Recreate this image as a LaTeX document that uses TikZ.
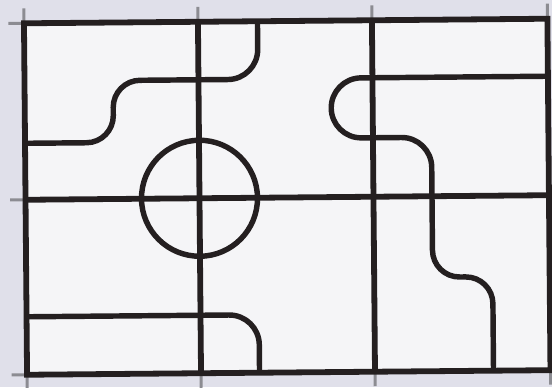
\documentclass[tikz,border=0pt]{standalone}
\usepackage{xcolor}
\usepackage{tikz}
\definecolor{ink}{RGB}{36,31,32}
\definecolor{paper}{RGB}{245,245,247}
\definecolor{scan}{RGB}{224,224,234}
\definecolor{pencil}{RGB}{140,140,146}
\tikzstyle{frame} = [draw=ink, line width=3.3pt]
\tikzstyle{track} = [draw=ink, line width=3.1pt, line join=round]
\tikzstyle{tick} = [draw=pencil, line width=1.7pt]

\begin{document}
\begin{tikzpicture}[x=0.02cm, y=-0.02cm]
    \useasboundingbox[fill=scan] (0,0) rectangle (552,387);
    \begin{scope}[rotate around={0.5:(287,197)}]
    % 网格角点
    \coordinate (nw) at (25.5,21);
    \coordinate (ne) at (549,21);
    \coordinate (sw) at (25.5,372.5);
    \coordinate (se) at (549,372.5);
    \coordinate (w) at (25.5,197.5);
    \coordinate (e) at (549,197.5);
    \coordinate (n1) at (199.5,21);
    \coordinate (n2) at (373.5,21);
    \coordinate (s1) at (199.5,372.5);
    \coordinate (s2) at (373.5,372.5);
    \coordinate (hub) at (199.5,197.5);

    % 铅笔刻度
    \foreach \x in {25.5,199.5,373.5,549} {
        \draw [tick] (\x,6) -- (\x,21);
        \draw [tick] (\x,372.5) -- (\x,387);
    }
    \foreach \y in {21,197.5,372.5}
        \draw [tick] (10,\y) -- (25.5,\y);

    % 外框与网格
    \fill [paper] (nw) rectangle (se);
    \draw [frame] (nw) rectangle (se);
    \draw [frame] (w) -- (e);
    \draw [frame] (n1) -- (s1);
    \draw [frame] (n2) -- (s2);

    % 圆
    \draw [track] (hub) circle (58);

    % 曲线
    \draw [track, rounded corners=0.54cm] (25.5,141) -- (114,141) -- (114,79)
        [rounded corners=0.6cm] -- (259,79) -- (259,21);
    \draw [track, rounded corners=0.6cm] (549,78.5) -- (332,78.5) -- (332,138.5)
        -- (432,138.5) [rounded corners=0.54cm] -- (432,278.5) -- (492,278.5)
        -- (492,372.5);
    \draw [track, rounded corners=0.6cm] (25.5,314.5) -- (258,314.5) -- (258,372.5);
    \end{scope}
\end{tikzpicture}
\end{document}
